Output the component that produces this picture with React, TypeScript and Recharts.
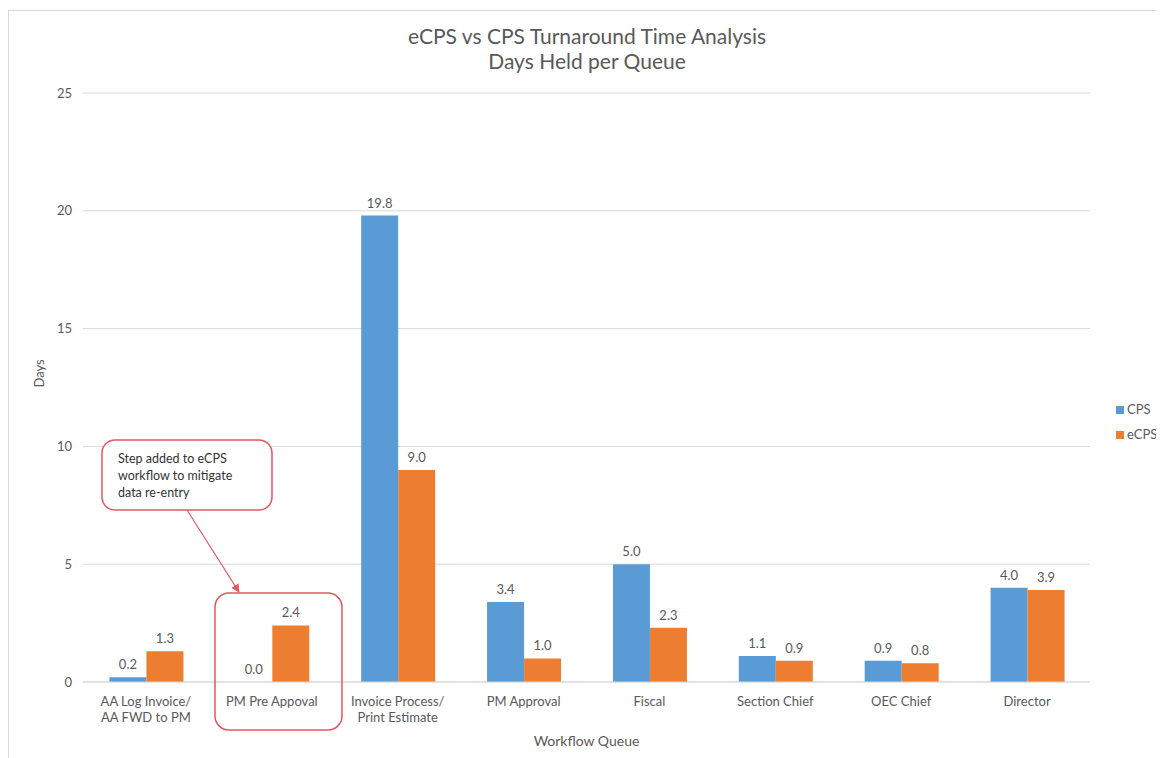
import { Bar, BarChart, CartesianGrid, LabelList, XAxis, YAxis } from "recharts";

const queues = [
  "AA Log Invoice/\nAA FWD to PM",
  "PM Pre Appoval",
  "Invoice Process/\nPrint Estimate",
  "PM Approval",
  "Fiscal",
  "Section Chief",
  "OEC Chief",
  "Director",
];
const cps = [0.2, 0.0, 19.8, 3.4, 5.0, 1.1, 0.9, 4.0];
const ecps = [1.3, 2.4, 9.0, 1.0, 2.3, 0.9, 0.8, 3.9];
const yTicks = [0, 5, 10, 15, 20, 25];

const data = queues.map((q, i) => ({ queue: q, cps: cps[i], ecps: ecps[i] }));

const FONT = "Lato, 'Open Sans', sans-serif";
const GREY = "#595959";
const BLUE = "#5B9BD5";
const ORANGE = "#ED7D31";
const RED = "#E9565F";

function QueueTick(props: any) {
  const { x, y, payload } = props;
  const lines = String(payload.value).split("\n");
  return (
    <text x={x} y={y} textAnchor="middle" fill={GREY} fontSize={13} fontFamily={FONT}>
      {lines.map((l, i) => (
        <tspan key={i} x={x} dy={16}>
          {l}
        </tspan>
      ))}
    </text>
  );
}

const fmt = (v: any) => Number(v).toFixed(1);

export default function App() {
  return (
    <div style={{ position: "relative", width: 1156, height: 750, fontFamily: FONT }}>
      <div
        style={{
          position: "absolute",
          left: 0,
          top: 2,
          width: 1160,
          height: 748,
          borderTop: "1px solid #d9d9d9",
          borderLeft: "1px solid #d9d9d9",
        }}
      />
      <div
        style={{
          position: "absolute",
          left: 1,
          width: 1156,
          top: 15,
          textAlign: "center",
          color: GREY,
          fontSize: 21,
          lineHeight: "25px",
        }}
      >
        eCPS vs CPS Turnaround Time Analysis
        <br />
        Days Held per Queue
      </div>
      <BarChart
        width={1156}
        height={750}
        data={data}
        margin={{ top: 85, right: 74, left: 0, bottom: 0 }}
        barCategoryGap="21%"
        barGap={0}
      >
        <CartesianGrid vertical={false} stroke="#d9d9d9" />
        <XAxis
          dataKey="queue"
          height={76}
          tick={<QueueTick />}
          tickLine={false}
          axisLine={{ stroke: "#d9d9d9" }}
          interval={0}
          label={{
            value: "Workflow Queue",
            position: "insideBottom",
            offset: 12,
            fill: GREY,
            fontSize: 14,
            fontFamily: FONT,
          }}
        />
        <YAxis
          width={75}
          domain={[0, 25]}
          ticks={yTicks}
          axisLine={false}
          tickLine={false}
          tickSize={0}
          tickMargin={11}
          tick={{ fill: GREY, fontSize: 13, fontFamily: FONT }}
          label={{
            value: "Days",
            angle: -90,
            position: "insideLeft",
            offset: 31,
            fill: GREY,
            fontSize: 13,
            fontFamily: FONT,
          }}
        />
        <Bar dataKey="cps" name="CPS" fill={BLUE} minPointSize={0.01} isAnimationActive={false}>
          <LabelList
            dataKey="cps"
            position="top"
            offset={8}
            formatter={fmt}
            fill={GREY}
            fontSize={13}
            fontFamily={FONT}
          />
        </Bar>
        <Bar dataKey="ecps" name="eCPS" fill={ORANGE} isAnimationActive={false}>
          <LabelList
            dataKey="ecps"
            position="top"
            offset={8}
            formatter={fmt}
            fill={GREY}
            fontSize={13}
            fontFamily={FONT}
          />
        </Bar>
      </BarChart>
      <div style={{ position: "absolute", left: 1108, top: 389, fontSize: 13, color: GREY, lineHeight: "25px" }}>
        {[
          { name: "CPS", color: BLUE },
          { name: "eCPS", color: ORANGE },
        ].map((s) => (
          <div key={s.name} style={{ display: "flex", alignItems: "center" }}>
            <span style={{ width: 8, height: 8, background: s.color, marginRight: 3, display: "inline-block" }} />
            {s.name}
          </div>
        ))}
      </div>
      <svg
        width={1156}
        height={750}
        style={{ position: "absolute", left: 0, top: 0, pointerEvents: "none" }}
      >
        <defs>
          <marker id="arrow" viewBox="0 0 10 10" refX="9" refY="5" markerWidth="7" markerHeight="7" orient="auto">
            <path d="M0,0 L10,5 L0,10 z" fill={RED} />
          </marker>
        </defs>
        <rect x={94} y={432} width={170} height={70} rx={13} fill="#fff" stroke={RED} strokeWidth={1.5} />
        <text fontSize={12.5} fill="#333" fontFamily={FONT}>
          <tspan x={110} y={455}>Step added to eCPS</tspan>
          <tspan x={110} y={472}>workflow to mitigate</tspan>
          <tspan x={110} y={489}>data re-entry</tspan>
        </text>
        <line x1={179} y1={502} x2={231} y2={584} stroke={RED} strokeWidth={1.2} markerEnd="url(#arrow)" />
        <rect x={207} y={585} width={127} height={137} rx={14} fill="none" stroke={RED} strokeWidth={1.5} />
      </svg>
    </div>
  );
}
